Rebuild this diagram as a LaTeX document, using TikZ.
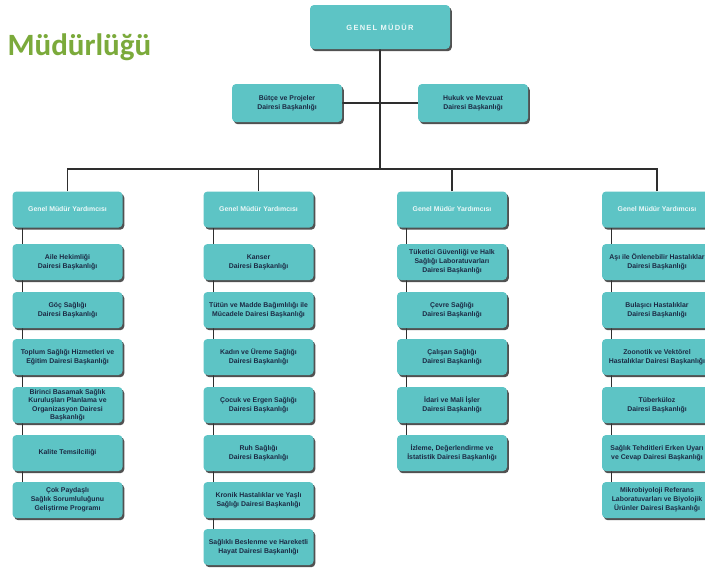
\documentclass[tikz,border=0pt]{standalone}
\usepackage{fontspec}
\setmainfont{Liberation Sans}
\newfontfamily\titlefont{Carlito}
\usetikzlibrary{shadows,backgrounds}

\definecolor{boxteal}{HTML}{5DC4C5}
\definecolor{boxtext}{HTML}{1C2A44}
\definecolor{titlegreen}{HTML}{7BAA3B}
\definecolor{linegray}{HTML}{2E2E2E}

\tikzset{
  unit/.style={fill=boxteal, rounded corners=4pt, minimum width=110pt,
    minimum height=36pt, inner xsep=0pt, inner ysep=1pt, align=center,
    text=boxtext, font=\fontsize{6.9}{9}\selectfont\bfseries,
    drop shadow={shadow xshift=1.8pt, shadow yshift=-2.2pt, fill=black!80, opacity=.85}},
  deputy/.style={unit, text=white!88!boxteal},
  link/.style={draw=linegray, line width=1.3pt}
}

\begin{document}
\begin{tikzpicture}[x=1pt, y=-1pt]
        \useasboundingbox (0,0) rectangle (705,571);
        \clip (0,0) rectangle (705,571);

        \node[anchor=base west, text=titlegreen, font=\titlefont\fontsize{31}{31}\selectfont\bfseries] (title) at (4,55) {Müdürlüğü};

        \node[unit, minimum width=140pt, minimum height=44pt, text=white!88!boxteal, font=\fontsize{7.5}{9}\selectfont\bfseries] (gm) at (380,27) {\raisebox{-5pt}{G\,E\,N\,E\,L\, M\,Ü\,D\,Ü\,R}};
        \node[unit, minimum height=38pt] (butce) at (287,103) {Bütçe ve Projeler\\Dairesi Başkanlığı};
        \node[unit, minimum height=38pt] (hukuk) at (473,103) {Hukuk ve Mevzuat\\Dairesi Başkanlığı};
        \coordinate (bus) at (380,169);

        % first deputy
        \node[deputy] (a1) at (67.5,209.5) {Genel Müdür Yardımcısı};
        \node[unit] (a2) at (67.5,262) {Aile Hekimliği\\Dairesi Başkanlığı};
        \node[unit] (a3) at (67.5,310) {Göç Sağlığı\\Dairesi Başkanlığı};
        \node[unit] (a4) at (67.5,357) {Toplum Sağlığı Hizmetleri ve\\Eğitim Dairesi Başkanlığı};
        \node[unit, font=\fontsize{6.9}{8.4}\selectfont\bfseries] (a5) at (67.5,405) {Birinci Basamak Sağlık\\Kuruluşları Planlama ve\\Organizasyon Dairesi\\Başkanlığı};
        \node[unit] (a6) at (67.5,453) {Kalite Temsilciliği};
        \node[unit] (a7) at (67.5,500) {Çok Paydaşlı\\Sağlık Sorumluluğunu\\Geliştirme Programı};

        % second deputy
        \node[deputy] (b1) at (258.5,209.5) {Genel Müdür Yardımcısı};
        \node[unit] (b2) at (258.5,262) {Kanser\\Dairesi Başkanlığı};
        \node[unit] (b3) at (258.5,310) {Tütün ve Madde Bağımlılığı ile\\Mücadele Dairesi Başkanlığı};
        \node[unit] (b4) at (258.5,357) {Kadın ve Üreme Sağlığı\\Dairesi Başkanlığı};
        \node[unit] (b5) at (258.5,405) {Çocuk ve Ergen Sağlığı\\Dairesi Başkanlığı};
        \node[unit] (b6) at (258.5,453) {Ruh Sağlığı\\Dairesi Başkanlığı};
        \node[unit] (b7) at (258.5,500) {Kronik Hastalıklar ve Yaşlı\\Sağlığı Dairesi Başkanlığı};
        \node[unit] (b8) at (258.5,547) {Sağlıklı Beslenme ve Hareketli\\Hayat Dairesi Başkanlığı};

        % third deputy
        \node[deputy] (c1) at (452,209.5) {Genel Müdür Yardımcısı};
        \node[unit] (c2) at (452,262) {Tüketici Güvenliği ve Halk\\Sağlığı Laboratuvarları\\Dairesi Başkanlığı};
        \node[unit] (c3) at (452,310) {Çevre Sağlığı\\Dairesi Başkanlığı};
        \node[unit] (c4) at (452,357) {Çalışan Sağlığı\\Dairesi Başkanlığı};
        \node[unit] (c5) at (452,405) {İdari ve Mali İşler\\Dairesi Başkanlığı};
        \node[unit] (c6) at (452,453) {İzleme, Değerlendirme ve\\İstatistik Dairesi Başkanlığı};

        % fourth deputy
        \node[deputy] (d1) at (657,209.5) {Genel Müdür Yardımcısı};
        \node[unit] (d2) at (657,262) {Aşı ile Önlenebilir Hastalıklar\\Dairesi Başkanlığı};
        \node[unit] (d3) at (657,310) {Bulaşıcı Hastalıklar\\Dairesi Başkanlığı};
        \node[unit] (d4) at (657,357) {Zoonotik ve Vektörel\\Hastalıklar Dairesi Başkanlığı};
        \node[unit] (d5) at (657,405) {Tüberküloz\\Dairesi Başkanlığı};
        \node[unit] (d6) at (657,453) {Sağlık Tehditleri Erken Uyarı\\ve Cevap Dairesi Başkanlığı};
        \node[unit] (d7) at (657,500) {Mikrobiyoloji Referans\\Laboratuvarları ve Biyolojik\\Ürünler Dairesi Başkanlığı};

        \begin{pgfonlayer}{background}
          \fill[white] (0,0) rectangle (705,571);
          \draw[link] (gm.south) -- (bus);
          \draw[link] (butce.east) -- (hukuk.west);
          \draw[link] (a1.north) |- (bus);
          \draw[link] (b1.north) |- (bus);
          \draw[link] (c1.north) |- (bus);
          \draw[link] (d1.north) |- (bus);

          \draw[link] ([xshift=10pt]a1.south west) -- ([xshift=10pt]a7.north west);
          \draw[link] ([xshift=10pt]b1.south west) -- ([xshift=10pt]b8.north west);
          \draw[link] ([xshift=10pt]c1.south west) -- ([xshift=10pt]c6.north west);
          \draw[link] ([xshift=10pt]d1.south west) -- ([xshift=10pt]d7.north west);
        \end{pgfonlayer}
      \end{tikzpicture}
\end{document}
